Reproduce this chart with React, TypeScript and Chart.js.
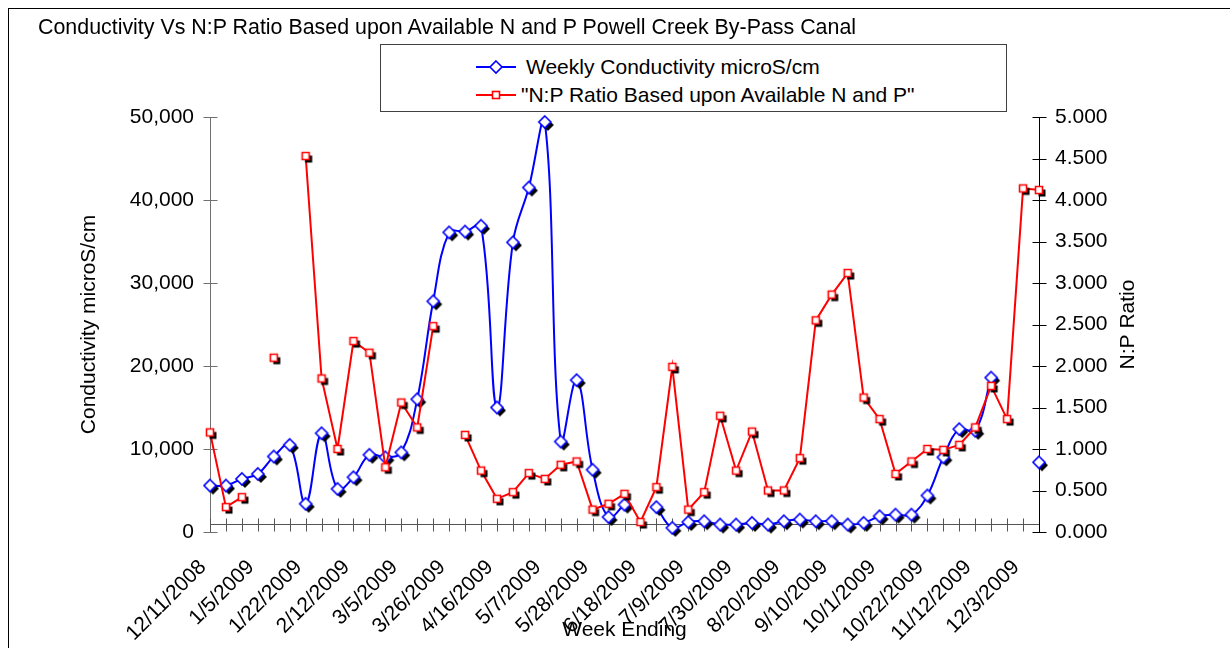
import React, { useEffect, useRef } from "react";
import { Chart, registerables } from "chart.js";

Chart.register(...registerables);

// ---------- data ----------
const categories = [
  "12/11/2008", "12/18/2008", "12/23/2008", "1/5/2009", "1/8/2009", "1/15/2009",
  "1/22/2009", "1/29/2009", "2/5/2009", "2/12/2009", "2/19/2009", "2/26/2009",
  "3/5/2009", "3/12/2009", "3/19/2009", "3/26/2009", "4/2/2009", "4/9/2009",
  "4/16/2009", "4/23/2009", "4/30/2009", "5/7/2009", "5/14/2009", "5/21/2009",
  "5/28/2009", "6/4/2009", "6/11/2009", "6/18/2009", "6/25/2009", "7/2/2009",
  "7/9/2009", "7/16/2009", "7/23/2009", "7/30/2009", "8/6/2009", "8/13/2009",
  "8/20/2009", "8/27/2009", "9/3/2009", "9/10/2009", "9/17/2009", "9/24/2009",
  "10/1/2009", "10/8/2009", "10/15/2009", "10/22/2009", "10/29/2009", "11/5/2009",
  "11/12/2009", "11/19/2009", "11/26/2009", "12/3/2009", "12/10/2009",
];

const conductivity: (number | null)[] = [
  5600, 5600, 6400, 7000, 9100, 10500, 3400, 11900, 5200, 6600,
  9300, 9000, 9600, 16000, 27800, 36100, 36200, 36900, 15000, 34900,
  41500, 49400, 10900, 18300, 7500, 1800, 3300, null, 3000, 500,
  1200, 1300, 900, 900, 1100, 900, 1300, 1500, 1300, 1300,
  900, 1100, 1900, 2100, 2100, 4400, 9000, 12400, 12200, 18600,
  null, null, 8400,
];

const npRatio: (number | null)[] = [
  1.2, 0.3, 0.42, null, 2.1, null, 4.53, 1.85, 1.0, 2.3,
  2.16, 0.78, 1.56, 1.26, 2.48, null, 1.17, 0.74, 0.4, 0.48,
  0.71, 0.64, 0.81, 0.85, 0.27, 0.34, 0.46, 0.12, 0.54, 1.99,
  0.27, 0.48, 1.4, 0.74, 1.21, 0.5, 0.5, 0.89, 2.55, 2.86,
  3.12, 1.62, 1.36, 0.7, 0.85, 1.0, 0.99, 1.05, 1.26, 1.76,
  1.36, 4.14, 4.12,
];

const titleText = "Conductivity Vs N:P Ratio Based upon Available N and P Powell Creek By-Pass Canal";
const seriesNames = ["Weekly Conductivity microS/cm", "\"N:P Ratio Based upon Available N and P\""];
const leftAxisTitle = "Conductivity microS/cm";
const rightAxisTitle = "N:P Ratio";
const xAxisTitle = "Week Ending";
const leftMax = 50000;
const leftStep = 10000;
const rightMax = 5;
const rightStep = 0.5;
const xAxisCrossesAt = 1000;
const labelEvery = 3;

const FONT = '"Liberation Sans", Arial, Helvetica, sans-serif';
const FS = 21;
const BLUE = "#0000ff";
const RED = "#ff0000";

function shapePath(ctx: CanvasRenderingContext2D, kind: string, cx: number, cy: number) {
  ctx.beginPath();
  if (kind === "diamond") {
    const r = 6;
    ctx.moveTo(cx, cy - r);
    ctx.lineTo(cx + r, cy);
    ctx.lineTo(cx, cy + r);
    ctx.lineTo(cx - r, cy);
  } else {
    const h = 3.5;
    ctx.rect(cx - h, cy - h, 2 * h, 2 * h);
  }
  ctx.closePath();
}

function makeMarker(kind: string, color: string): HTMLCanvasElement {
  const c = document.createElement("canvas");
  c.width = 24;
  c.height = 24;
  const ctx = c.getContext("2d")!;
  ctx.fillStyle = "#000";
  shapePath(ctx, kind, 15, 15);
  ctx.fill();
  shapePath(ctx, kind, 12, 12);
  ctx.fillStyle = "#fff";
  ctx.fill();
  ctx.strokeStyle = color;
  ctx.lineWidth = 1.6;
  ctx.stroke();
  return c;
}

const excelAxes = {
  id: "excelAxes",
  beforeDatasetsDraw(chart: any) {
    const { ctx, chartArea, scales } = chart;
    const y = scales.y;
    const y1 = scales.y1;
    const x = scales.x;
    ctx.save();
    ctx.lineWidth = 1;
    // left axis
    const lx = Math.round(chartArea.left) + 0.5;
    ctx.strokeStyle = "#707070";
    ctx.beginPath();
    ctx.moveTo(lx, Math.round(y.getPixelForValue(leftMax)));
    ctx.lineTo(lx, Math.round(y.getPixelForValue(0)) + 1);
    y.ticks.forEach((t: any) => {
      const py = Math.round(y.getPixelForValue(t.value)) + 0.5;
      ctx.moveTo(lx - 7, py);
      ctx.lineTo(lx + 7, py);
    });
    ctx.stroke();
    // horizontal category axis
    const ay = Math.round(y.getPixelForValue(xAxisCrossesAt)) + 0.5;
    ctx.strokeStyle = "#555555";
    ctx.beginPath();
    ctx.moveTo(chartArea.left, ay);
    ctx.lineTo(chartArea.right, ay);
    for (let i = 0; i < categories.length; i++) {
      const px = Math.round(x.getPixelForValue(i)) + 0.5;
      ctx.moveTo(px, ay - 6);
      ctx.lineTo(px, ay + 7);
    }
    ctx.stroke();
    // right axis
    const rx = Math.round(chartArea.right) + 0.5;
    ctx.strokeStyle = "#000";
    ctx.beginPath();
    ctx.moveTo(rx, Math.round(y1.getPixelForValue(rightMax)));
    ctx.lineTo(rx, Math.round(y1.getPixelForValue(0)) + 1);
    y1.ticks.forEach((t: any) => {
      const py = Math.round(y1.getPixelForValue(t.value)) + 0.5;
      ctx.moveTo(rx - 7, py);
      ctx.lineTo(rx + 7, py);
    });
    ctx.stroke();
    ctx.restore();
  },
  afterDraw(chart: any) {
    const { ctx, chartArea } = chart;
    ctx.save();
    ctx.fillStyle = "#000";
    ctx.font = `${FS}px ${FONT}`;
    ctx.textAlign = "center";
    ctx.textBaseline = "middle";
    ctx.translate(1128, (chartArea.top + chartArea.bottom) / 2);
    ctx.rotate(-Math.PI / 2);
    ctx.fillText(rightAxisTitle, 0, 0);
    ctx.restore();
  },
};

function LegendSample({ kind, color }: { kind: string; color: string }) {
  return (
    <svg width={44} height={16} style={{ position: "absolute", left: 93, top: -8 }}>
      <line x1={2} y1={8} x2={42} y2={8} stroke={color} strokeWidth={2} />
      {kind === "diamond" ? (
        <polygon points="22,2 28,8 22,14 16,8" fill="#fff" stroke={color} strokeWidth={1.6} />
      ) : (
        <rect x={18.5} y={4.5} width={7} height={7} fill="#fff" stroke={color} strokeWidth={1.6} />
      )}
    </svg>
  );
}

export default function App() {
  const ref = useRef<HTMLCanvasElement>(null);

  useEffect(() => {
    const blueMarker = makeMarker("diamond", BLUE);
    const redMarker = makeMarker("square", RED);
    const chart = new Chart(ref.current!, {
      type: "line",
      data: {
        labels: categories,
        datasets: [
          {
            label: seriesNames[0],
            data: conductivity,
            yAxisID: "y",
            borderColor: BLUE,
            borderWidth: 2,
            tension: 0.4,
            pointStyle: blueMarker as any,
            pointRadius: 6,
            spanGaps: false,
            clip: false as any,
            order: 2,
          },
          {
            label: seriesNames[1],
            data: npRatio,
            yAxisID: "y1",
            borderColor: RED,
            borderWidth: 2,
            tension: 0,
            pointStyle: redMarker as any,
            pointRadius: 4,
            spanGaps: false,
            clip: false as any,
            order: 1,
          },
        ],
      },
      options: {
        responsive: false,
        animation: false,
        devicePixelRatio: 1,
        layout: { padding: { top: 117, left: 0, right: 0, bottom: 0 } },
        elements: { line: { capBezierPoints: false } as any },
        plugins: { legend: { display: false }, tooltip: { enabled: false }, title: { display: false } },
        scales: {
          x: {
            type: "category",
            offset: false,
            grid: { display: false, drawTicks: false },
            border: { display: false },
            ticks: {
              autoSkip: false,
              minRotation: 45,
              maxRotation: 45,
              padding: 23,
              labelOffset: -7,
              color: "#000",
              font: { family: FONT, size: FS },
              callback: (_v: any, i: number) => (i % labelEvery === 0 ? categories[i] : ""),
            },
            title: {
              display: true,
              text: xAxisTitle,
              color: "#000",
              font: { family: FONT, size: FS },
              padding: { top: 0, bottom: 5 },
            },
            afterFit: (s: any) => {
              s.height = 116;
            },
          },
          y: {
            type: "linear",
            position: "left",
            min: 0,
            max: leftMax,
            grid: { display: false, drawTicks: false },
            border: { display: false },
            ticks: {
              stepSize: leftStep,
              padding: 16,
              color: "#000",
              font: { family: FONT, size: FS },
              callback: (v: any) => Number(v).toLocaleString("en-US"),
            },
            title: {
              display: true,
              text: leftAxisTitle,
              color: "#000",
              font: { family: FONT, size: FS },
              padding: { top: 77, bottom: 0 },
            },
            afterFit: (s: any) => {
              s.width = 210;
            },
          },
          y1: {
            type: "linear",
            position: "right",
            min: 0,
            max: rightMax,
            grid: { display: false, drawTicks: false },
            border: { display: false },
            ticks: {
              stepSize: rightStep,
              padding: 16,
              color: "#000",
              font: { family: FONT, size: FS },
              callback: (v: any) => Number(v).toFixed(3),
            },
            afterFit: (s: any) => {
              s.width = 191;
            },
          },
        },
      },
      plugins: [excelAxes],
    } as any);
    return () => chart.destroy();
  }, []);

  return (
    <div
      style={{
        position: "fixed",
        left: 0,
        top: 0,
        width: 1230,
        height: 648,
        overflow: "hidden",
        background: "#fff",
        fontFamily: FONT,
        color: "#000",
      }}
    >
      <div
        style={{
          position: "absolute",
          left: 8,
          top: 8,
          width: 1300,
          height: 700,
          border: "1px solid #000",
        }}
      />
      <canvas ref={ref} width={1230} height={648} style={{ position: "absolute", left: 0, top: 0 }} />
      <div
        style={{
          position: "absolute",
          left: 38,
          top: 14,
          fontSize: 21.4,
          lineHeight: "26px",
          whiteSpace: "nowrap",
        }}
      >
        {titleText}
      </div>
      <div
        style={{
          position: "absolute",
          left: 380,
          top: 44,
          width: 625,
          height: 66,
          border: "1px solid #404040",
          background: "#fff",
          fontSize: FS,
        }}
      >
        <div style={{ position: "absolute", left: 0, top: 22, width: "100%" }}>
          <LegendSample kind="diamond" color={BLUE} />
          <div style={{ position: "absolute", left: 145, top: -13, lineHeight: "26px", whiteSpace: "nowrap" }}>
            {seriesNames[0]}
          </div>
        </div>
        <div style={{ position: "absolute", left: 0, top: 50, width: "100%" }}>
          <LegendSample kind="square" color={RED} />
          <div style={{ position: "absolute", left: 140, top: -13, lineHeight: "26px", whiteSpace: "nowrap" }}>
            {seriesNames[1]}
          </div>
        </div>
      </div>
    </div>
  );
}
